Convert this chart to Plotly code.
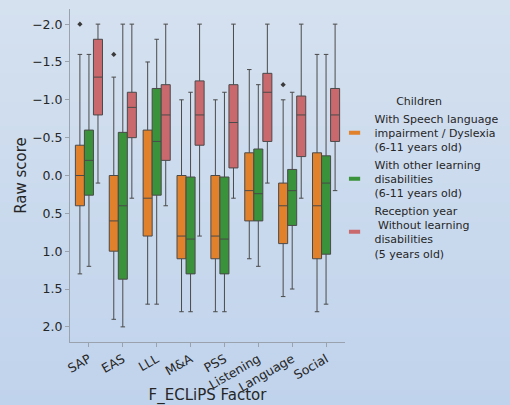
import base64, struct, zlib
import plotly.graph_objects as go

# ---------------- data ----------------
categories = ["SAP", "EAS", "LLL", "M&A", "PSS", "Listening", "Language", "Social"]

group_names = [
    "With Speech language<br>impairment / Dyslexia<br>(6-11 years old)",
    "With other learning<br>disabilities<br>(6-11 years old)",
    "Reception year<br> Without learning<br>disabilities<br>(5 years old)",
]

# Specific language impairment / dyslexia (orange)
slid_q1 = [-0.4, 0.0, -0.6, 0.0, 0.0, -0.3, 0.1, -0.3]
slid_med = [0.0, 0.6, 0.3, 0.8, 0.8, 0.2, 0.4, 0.4]
slid_q3 = [0.4, 1.0, 0.8, 1.1, 1.1, 0.6, 0.9, 1.1]
slid_lo = [-1.6, -1.3, -1.5, -1.0, -1.0, -1.4, -1.0, -1.6]
slid_hi = [1.3, 1.9, 1.7, 1.8, 1.8, 1.1, 1.6, 1.8]
slid_out = [[-2.0], [-1.6], [], [], [], [], [-1.2], []]

# Other learning disabilities (green)
old_q1 = [-0.6, -0.57, -1.15, 0.02, 0.02, -0.35, -0.08, -0.26]
old_med = [-0.2, 0.4, -0.45, 0.84, 0.84, 0.24, 0.2, 0.1]
old_q3 = [0.26, 1.37, 0.26, 1.3, 1.3, 0.6, 0.66, 1.04]
old_lo = [-1.6, -2.0, -1.8, -1.1, -1.1, -1.2, -1.1, -1.6]
old_hi = [1.2, 2.0, 1.7, 1.8, 1.8, 1.2, 1.5, 1.7]
old_out = [[], [], [], [], [], [], [], []]

# Reception year, without learning disabilities (red)
rec_q1 = [-1.8, -1.1, -1.2, -1.25, -1.2, -1.35, -1.05, -1.15]
rec_med = [-1.3, -0.9, -0.8, -0.8, -0.7, -1.1, -0.8, -0.8]
rec_q3 = [-0.8, -0.5, -0.2, -0.4, -0.1, -0.45, -0.25, -0.45]
rec_lo = [-2.0, -2.0, -2.0, -2.0, -2.0, -2.0, -2.0, -2.0]
rec_hi = [0.1, 0.3, 0.4, 0.8, 0.3, 0.1, 0.3, 0.2]
rec_out = [[], [], [], [], [], [], [], []]

colors = ["#e1812c", "#3a923a", "#c9696d"]

y_ticks = [-2.0, -1.5, -1.0, -0.5, 0.0, 0.5, 1.0, 1.5, 2.0]
y_ticktext = [("\u2212" if v < 0 else "") + f"{abs(v):.1f}" for v in y_ticks]

# ---------------- background gradient (styling) ----------------
def gradient_png(h, top, bottom):
    rows = b""
    for i in range(h):
        t = i / (h - 1)
        c = bytes(int(round(top[k] + (bottom[k] - top[k]) * t)) for k in range(3))
        rows += b"\x00" + c
    def chunk(tag, data):
        return struct.pack(">I", len(data)) + tag + data + struct.pack(">I", zlib.crc32(tag + data) & 0xffffffff)
    png = b"\x89PNG\r\n\x1a\n"
    png += chunk(b"IHDR", struct.pack(">IIBBBBB", 1, h, 8, 2, 0, 0, 0))
    png += chunk(b"IDAT", zlib.compress(rows))
    png += chunk(b"IEND", b"")
    return "data:image/png;base64," + base64.b64encode(png).decode()

bg = gradient_png(405, (213, 225, 239), (192, 211, 236))

# ---------------- figure ----------------
fig = go.Figure()
series = [
    (slid_q1, slid_med, slid_q3, slid_lo, slid_hi, slid_out),
    (old_q1, old_med, old_q3, old_lo, old_hi, old_out),
    (rec_q1, rec_med, rec_q3, rec_lo, rec_hi, rec_out),
]
for name, col, (q1, med, q3, lo, hi, out) in zip(group_names, colors, series):
    has_out = any(len(o) > 0 for o in out)
    fig.add_trace(go.Box(
        name=name,
        x=categories,
        y=out if has_out else None,
        q1=q1, median=med, q3=q3, lowerfence=lo, upperfence=hi,
        boxpoints="all" if has_out else False, jitter=0, pointpos=0,
        fillcolor=col,
        line=dict(color="#4a4a4a", width=1),
        whiskerwidth=0.5,
        marker=dict(color="#3a3a3a", size=4, symbol="diamond"),
        hoverinfo="skip",
        showlegend=False,
    ))

# legend entries (thin colour bars like the reference legend handles)
for name, col in zip(group_names, colors):
    fig.add_trace(go.Scatter(
        x=[None], y=[None], mode="markers", name=name,
        marker=dict(symbol="line-ew", size=8, color=col, line=dict(color=col, width=4)),
        showlegend=True, hoverinfo="skip",
    ))

W, H = 510, 405
L, R, T, B = 70, 165, 9, 63
pw, ph = W - L - R, H - T - B

fig.update_layout(
    width=W, height=H,
    margin=dict(l=L, r=R, t=T, b=B, autoexpand=False),
    paper_bgcolor="#cbdaec",
    plot_bgcolor="rgba(0,0,0,0)",
    font=dict(family="DejaVu Sans", size=12, color="#262626"),
    boxmode="group",
    boxgap=0.2,
    boxgroupgap=0,
    showlegend=True,
    images=[dict(
        source=bg, xref="paper", yref="paper",
        x=-L / pw, y=1 + T / ph, sizex=W / pw, sizey=H / ph,
        xanchor="left", yanchor="top", sizing="stretch", layer="below",
    )],
    legend=dict(
        x=0.962, xanchor="left", y=0.755, yanchor="top",
        bgcolor="rgba(0,0,0,0)",
        font=dict(family="DejaVu Sans", size=11, color="#262626"),
        title=dict(text="Children", side="top center",
                   font=dict(family="DejaVu Sans", size=11, color="#262626")),
        tracegroupgap=0,
        itemwidth=30,
    ),
    xaxis=dict(
        type="category",
        categoryorder="array", categoryarray=categories,
        showline=True, linecolor="#9aa3ad", linewidth=1,
        ticks="outside", ticklen=4, tickcolor="#9aa3ad",
        tickangle=-30,
        tickfont=dict(size=12.5, color="#262626"),
        showgrid=False, zeroline=False,
        title=dict(text="F_ECLiPS Factor", font=dict(size=15, color="#262626"), standoff=16),
    ),
    yaxis=dict(
        range=[2.2, -2.2],
        tickvals=y_ticks, ticktext=y_ticktext,
        showline=True, linecolor="#9aa3ad", linewidth=1,
        ticks="outside", ticklen=4, tickcolor="#9aa3ad",
        tickfont=dict(size=12.5, color="#262626"),
        showgrid=False, zeroline=False,
        title=dict(text="Raw score", font=dict(size=15, color="#262626"), standoff=1),
    ),
)

fig.write_html(
    "out.html",
    config={"displayModeBar": False},
    post_script="document.body.style.margin='0';document.body.style.overflow='hidden';",
)
